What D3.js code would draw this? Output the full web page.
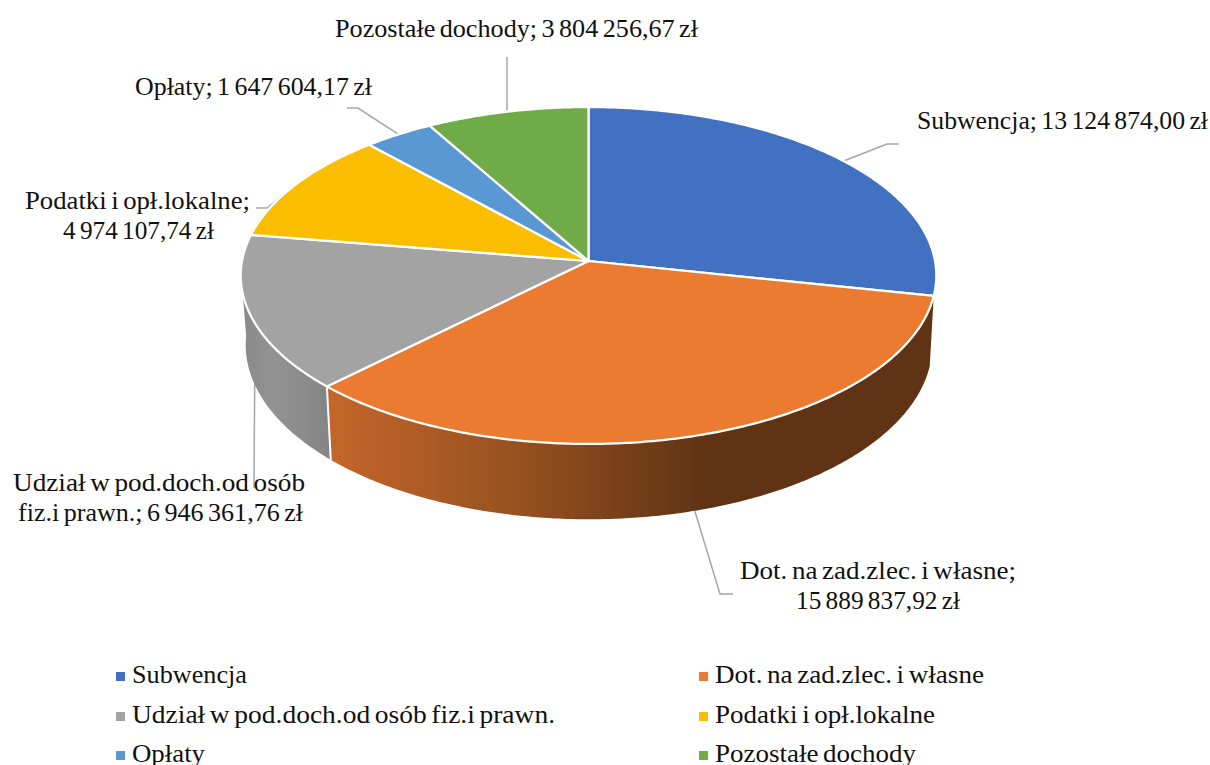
<!doctype html>
<html lang="pl">
  <head>
    <title>Dochody</title>
    <meta charset="utf-8">
    <script src="https://d3js.org/d3.v7.min.js"></script>
    <style>
      body { margin: 0; background: #fff; }
      text { font-family: "Liberation Serif", serif; font-size: 25px; word-spacing: -2px; fill: #111; }
    </style>
  </head>
  <body>
    <div id="container"></div>
  </body>
  <script>
    // Chart values
    const categories = ["Subwencja", "Dot. na zad.zlec. i własne", "Udział w pod.doch.od osób fiz.i prawn.", "Podatki i opł.lokalne", "Opłaty", "Pozostałe dochody"]
    const values = [13124874.00, 15889837.92, 6946361.76, 4974107.74, 1647604.17, 3804256.67]
    const colors = ["#4371C1", "#EA7B30", "#A3A3A3", "#FBBD00", "#5A98D3", "#6FAB46"]
    // where a data label wraps to a second line ("" = one line)
    const labelBreaks = ["", "własne; ", "osób ", "lokalne; ", "", ""]

    // Layout of labels, leaders and legend
    const labelBoxes = [
      [{x: 917, y: 129, w: 291}],
      [{x: 740, y: 579, w: 276}, {x: 796, y: 609, w: 164}],
      [{x: 13, y: 491, w: 292}, {x: 18, y: 521, w: 285}],
      [{x: 25, y: 209, w: 225}, {x: 63, y: 239, w: 151}],
      [{x: 135, y: 95, w: 237}],
      [{x: 335, y: 37, w: 363}]
    ]
    const leaderEnds = [
      [[887, 144], [899, 144]],
      [[720, 594], [733, 594]],
      [[254, 488]],
      [[267, 208], [256, 208]],
      [[358, 108], [347, 108]],
      [[507, 57]]
    ]
    const legendBoxes = [
      {x: 116, y: 683, w: 115}, {x: 699, y: 683, w: 269},
      {x: 116, y: 723, w: 423}, {x: 699, y: 723, w: 220},
      {x: 116, y: 762, w: 73}, {x: 699, y: 762, w: 201}
    ]

    const width = 1210
    const height = 765

    // Perspective projection of the pie disc
    const perspective = 0.086
    const topDisc = {x: 588.5, y: 261, a: 346.5, b: 167.2}
    const bottomDisc = {x: 589, y: 330, a: 342, b: 173}
    // left silhouette of the wall, where it leaves the top and bottom rims
    const wallTopAngle = 259 * Math.PI / 180
    const wallBottomAngle = 268 * Math.PI / 180

    function project(disc, angle) {
      const u = Math.sin(angle)
      const v = -Math.cos(angle)
      const d = 1 - perspective * v
      return [disc.x + disc.a * u / d, disc.y + disc.b * v / d]
    }

    function rim(disc, start, end) {
      const steps = Math.max(2, Math.ceil(Math.abs(end - start) / 0.01))
      return d3.range(steps + 1).map(i => project(disc, start + (end - start) * i / steps))
    }

    const svg = d3.select("#container")
      .append("svg")
        .attr("width", width)
        .attr("height", height)
        .style("display", "block")

    const slices = d3.pie().sort(null).startAngle(0).endAngle(2 * Math.PI)(values)
    const polyline = d3.line()
    const formatValue = d3.formatLocale({decimal: ",", thousands: " ", grouping: [3], currency: ["", " zł"]}).format("$,.2f")

    // Side gradients
    const defs = svg.append("defs")
    function addGradient(id, x1, x2, stops) {
      const g = defs.append("linearGradient")
        .attr("id", id)
        .attr("gradientUnits", "userSpaceOnUse")
        .attr("x1", x1).attr("x2", x2).attr("y1", 0).attr("y2", 0)
      stops.forEach(s => g.append("stop").attr("offset", s[0]).attr("stop-color", s[1]))
    }
    addGradient("sideOrange", 330, 705, [[0, "#C4662A"], [0.5, "#96511F"], [1, "#5F3314"]])
    addGradient("sideGray", 243, 330, [[0, "#8A8A8A"], [0.35, "#939393"], [1, "#848484"]])

    // Leader lines sit behind the pie. Lower slices leave from the bottom rim.
    slices.forEach((s, i) => {
      const mid = (s.startAngle + s.endAngle) / 2
      const front = Math.cos(mid) < -0.2
      const start = project(front ? bottomDisc : topDisc, mid)
      svg.append("path")
        .attr("d", polyline([start, ...leaderEnds[i]]))
        .attr("fill", "none")
        .attr("stroke", "#A6A6A6")
        .attr("stroke-width", 1.5)
    })

    // Visible side walls: orange and gray slices
    const orange = slices[1]
    svg.append("path")
      .attr("d", polyline(rim(topDisc, orange.startAngle, orange.endAngle).concat(rim(bottomDisc, orange.endAngle, orange.startAngle))) + "Z")
      .attr("fill", "url(#sideOrange)")
    const gray = slices[2]
    svg.append("path")
      .attr("d", polyline(rim(topDisc, gray.startAngle, wallTopAngle).concat(rim(bottomDisc, wallBottomAngle, gray.startAngle))) + "Z")
      .attr("fill", "url(#sideGray)")
    // white seam between the two walls
    const seam = orange.endAngle
    svg.append("path")
      .attr("d", polyline([project(topDisc, seam), project(bottomDisc, seam)]))
      .attr("stroke", "#fff")
      .attr("stroke-width", 2)

    // Top face
    slices.forEach((s, i) => {
      const pts = [[topDisc.x, topDisc.y], ...rim(topDisc, s.startAngle, s.endAngle)]
      svg.append("path")
        .attr("d", polyline(pts) + "Z")
        .attr("fill", colors[i])
        .attr("stroke", "#fff")
        .attr("stroke-width", 2.25)
        .attr("stroke-linejoin", "round")
    })

    function drawText(str, box) {
      svg.append("text")
        .attr("x", box.x)
        .attr("y", box.y)
        .attr("textLength", box.w)
        .attr("lengthAdjust", "spacingAndGlyphs")
        .text(str)
    }

    // Data labels
    categories.forEach((c, i) => {
      const full = `${c}; ${formatValue(values[i])}`
      const cut = labelBreaks[i] ? full.indexOf(labelBreaks[i]) + labelBreaks[i].length : -1
      const lines = cut > 0 ? [full.slice(0, cut).trim(), full.slice(cut)] : [full]
      lines.forEach((line, j) => drawText(line, labelBoxes[i][j]))
    })

    // Legend
    categories.forEach((c, i) => {
      const b = legendBoxes[i]
      svg.append("rect")
        .attr("x", b.x).attr("y", b.y - 11)
        .attr("width", 9).attr("height", 9)
        .attr("fill", colors[i])
      drawText(c, {x: b.x + 16, y: b.y, w: b.w})
    })
  </script>
</html>
